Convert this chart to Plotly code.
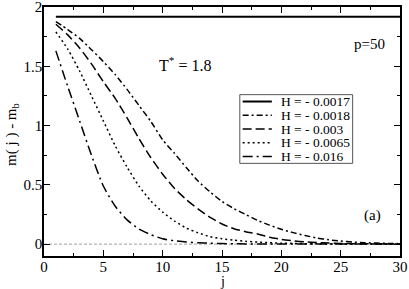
import plotly.graph_objects as go

j = list(range(1, 31))

labels = ["H = - 0.0017", "H = - 0.0018", "H = - 0.003", "H = - 0.0065", "H = - 0.016"]

m_0017 = [1.918] * 30
m_0018 = [1.877, 1.81, 1.735, 1.64, 1.54, 1.43, 1.305, 1.17, 1.035, 0.88,
          0.765, 0.645, 0.53, 0.44, 0.36, 0.30, 0.25, 0.20, 0.16, 0.125,
          0.097, 0.073, 0.052, 0.037, 0.026, 0.018, 0.012, 0.009, 0.006, 0.004]
m_003 = [1.855, 1.765, 1.655, 1.52, 1.37, 1.23, 1.065, 0.89, 0.73, 0.59,
         0.47, 0.375, 0.295, 0.225, 0.17, 0.13, 0.105, 0.085, 0.058, 0.04,
         0.028, 0.019, 0.013, 0.009, 0.006, 0.004, 0.003, 0.002, 0.001, 0.001]
m_0065 = [1.79, 1.645, 1.46, 1.25, 1.04, 0.83, 0.65, 0.49, 0.365, 0.27,
          0.195, 0.135, 0.095, 0.063, 0.045, 0.033, 0.024, 0.017, 0.012, 0.008,
          0.006, 0.004, 0.003, 0.002, 0.001, 0.001, 0.001, 0.001, 0.001, 0.001]
m_016 = [1.63, 1.33, 1.04, 0.75, 0.49, 0.32, 0.205, 0.128, 0.08, 0.045,
         0.028, 0.018, 0.012, 0.008, 0.005, 0.003, 0.002, 0.001, 0.001, 0.001,
         0.001, 0.001, 0.001, 0.001, 0.001, 0.001, 0.001, 0.001, 0.001, 0.001]

zero_x = [0, 30]
zero_y = [0, 0]

x_ticks = [0, 5, 10, 15, 20, 25, 30]
y_ticks = [0, 0.5, 1, 1.5, 2]
y_tick_text = ["0", "0.5", "1", "1.5", "2"]

series = [m_0017, m_0018, m_003, m_0065, m_016]
dashes = ["solid", "6px,3px,2px,3px", "9px,4px", "2px,3px", "10px,4px,2px,4px"]
widths = [2, 1.5, 1.5, 1.5, 1.5]

FONT = "Liberation Serif, Times New Roman, serif"

fig = go.Figure()
fig.add_trace(go.Scatter(x=zero_x, y=zero_y, mode="lines",
                         line=dict(color="#a0a0a0", width=1, dash="3px,2px"),
                         showlegend=False, hoverinfo="skip"))
for lab, ys, d, w in zip(labels, series, dashes, widths):
    fig.add_trace(go.Scatter(x=j, y=ys, mode="lines", name=lab, showlegend=False,
                             line=dict(color="black", width=w, dash=d, shape="spline", smoothing=0.6)))

axis_common = dict(showline=True, linecolor="black", linewidth=1.5, mirror="ticks",
                   ticks="inside", ticklen=6, tickcolor="black", tickwidth=1,
                   showgrid=False, zeroline=False, automargin=False,
                   ticklabeloverflow="allow",
                   tickfont=dict(family=FONT, size=15, color="black"))

fig.update_xaxes(range=[0, 30], tickvals=x_ticks, ticklabelstandoff=-4,
                 minor=dict(dtick=2.5, tick0=0, ticks="inside", ticklen=3, tickcolor="black"),
                 **axis_common)
fig.update_yaxes(range=[-0.1, 2], tickvals=y_ticks, ticktext=y_tick_text, ticklabelstandoff=-3,
                 minor=dict(dtick=0.25, tick0=0, ticks="inside", ticklen=3, tickcolor="black"),
                 **axis_common)

# axis titles
fig.add_annotation(x=0.5, y=-0.104, xref="paper", yref="paper", text="j", showarrow=False,
                   xanchor="center", yanchor="middle", font=dict(family=FONT, size=14, color="black"))
fig.add_annotation(x=-0.09, y=0.49, xref="paper", yref="paper", text="m( j ) - m<sub>b</sub>",
                   showarrow=False, textangle=-90, xanchor="center", yanchor="middle",
                   font=dict(family=FONT, size=15, color="black"))

# text labels
fig.add_annotation(x=0.963, y=0.852, xref="paper", yref="paper", text="p=50", showarrow=False,
                   xanchor="right", yanchor="middle", font=dict(family=FONT, size=15, color="black"))
fig.add_annotation(x=0.318, y=0.772, xref="paper", yref="paper", text="T<sup>*</sup> = 1.8", showarrow=False,
                   xanchor="left", yanchor="middle", font=dict(family=FONT, size=16, color="black"))
fig.add_annotation(x=0.952, y=0.164, xref="paper", yref="paper", text="(a)", showarrow=False,
                   xanchor="right", yanchor="middle", font=dict(family=FONT, size=15, color="black"))

# legend box drawn in paper coordinates
lx0, lx1, ly_top, ly_bot = 0.550, 0.867, 0.648, 0.372
fig.add_shape(type="rect", xref="paper", yref="paper", x0=lx0, x1=lx1, y0=ly_bot, y1=ly_top,
              line=dict(color="#555555", width=1), fillcolor="white", layer="above")
step = (ly_top - ly_bot) / len(labels)
for i, (lab, d, w) in enumerate(zip(labels, dashes, widths)):
    yy = ly_top - step * (i + 0.5)
    fig.add_shape(type="line", xref="paper", yref="paper", x0=0.558, x1=0.64, y0=yy, y1=yy,
                  line=dict(color="black", width=w, dash=d), layer="above")
    fig.add_annotation(x=0.66, y=yy, xref="paper", yref="paper", text=lab, showarrow=False,
                       xanchor="left", yanchor="middle",
                       font=dict(family=FONT, size=13.5, color="black"))

fig.update_layout(
    width=409, height=289,
    margin=dict(l=44, r=9, t=7, b=33),
    paper_bgcolor="white", plot_bgcolor="white",
    font=dict(family=FONT, color="black"),
    showlegend=False,
)

fig.write_html("out.html", config={"displayModeBar": False},
               post_script="document.body.style.margin='0';document.body.style.overflow='hidden';")
